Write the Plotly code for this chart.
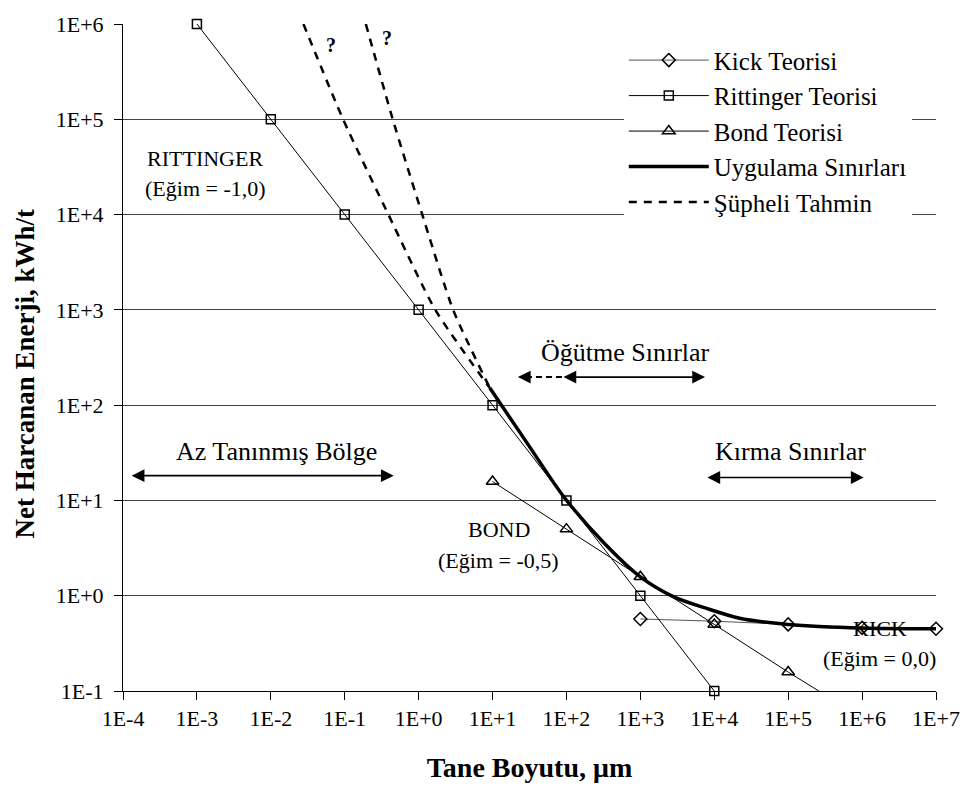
import plotly.graph_objects as go
import math

# ---------------- data ----------------
kick_x = [1e3, 1e4, 1e5, 1e6, 1e7]
kick_y = [0.57, 0.54, 0.50, 0.46, 0.45]

ritt_x = [1e-3, 1e-2, 1e-1, 1e0, 1e1, 1e2, 1e3, 1e4]
ritt_y = [1e6, 1e5, 1e4, 1e3, 1e2, 1e1, 1e0, 1e-1]

bond_x = [1e1, 1e2, 1e3, 1e4, 1e5]
bond_y = [15.8, 5.0, 1.58, 0.50, 0.158]
bond_ext_x = [1e5, 2.6e5]
bond_ext_y = [0.158, 0.1]

app_x = [9.2, 30, 93, 320, 1000, 2790, 7700, 22000, 1e5, 1e6, 1e7]
app_y = [151, 39, 10.8, 3.6, 1.58, 0.98, 0.74, 0.58, 0.50, 0.458, 0.45]

sus1_x = [0.0276, 0.095, 0.39, 1.68, 9.2]
sus2_x = [0.193, 0.446, 1.12, 2.93, 9.2]
sus_y = [1e6, 1e5, 1e4, 1e3, 151]

x_ticks = [10.0 ** k for k in range(-4, 8)]
x_ticktext = ["1E-4", "1E-3", "1E-2", "1E-1", "1E+0", "1E+1", "1E+2",
              "1E+3", "1E+4", "1E+5", "1E+6", "1E+7"]
y_ticks = [10.0 ** k for k in range(-1, 7)]
y_ticktext = ["1E-1", "1E+0", "1E+1", "1E+2", "1E+3", "1E+4", "1E+5", "1E+6"]

# labels (text, x value, y value, size)
labels = [
    ("RITTINGER", 0.0013, 3.85e4, 22),
    ("(Eğim = -1,0)", 0.0013, 1.9e4, 22),
    ("BOND", 12.2, 4.9, 22),
    ("(Eğim = -0,5)", 12.0, 2.36, 22),
    ("KICK", 1.74e6, 0.448, 22),
    ("(Eğim = 0,0)", 1.74e6, 0.22, 22),
    ("Az Tanınmış Bölge", 0.012, 33, 26),
    ("Öğütme Sınırlar", 630, 357, 26),
    ("Kırma Sınırlar", 1.09e5, 33, 26),
]
question_marks = [(0.0647, 6.0e5), (0.375, 7.2e5)]

# double arrows: (x_start, x_end, y)
double_arrows = [
    (1.25e-4, 0.46, 18.2),
    (87, 7.5e3, 197),
    (7.7e3, 1.05e6, 17.4),
]
# dashed extension of grinding limit: (x_from, x_to, y)
dashed_arrow = (87, 22, 197)

FONT = "Liberation Serif"

fig = go.Figure()

fig.add_trace(go.Scatter(
    x=kick_x, y=kick_y, mode="lines+markers", name="Kick Teorisi",
    line=dict(color="#555555", width=1),
    marker=dict(symbol="diamond-open", size=10, color="black", line=dict(width=1.5)),
    cliponaxis=False))
fig.add_trace(go.Scatter(
    x=ritt_x, y=ritt_y, mode="lines+markers", name="Rittinger Teorisi",
    line=dict(color="black", width=1),
    marker=dict(symbol="square-open", size=9, color="black", line=dict(width=1.5)),
    cliponaxis=False))
fig.add_trace(go.Scatter(
    x=bond_x, y=bond_y, mode="lines+markers", name="Bond Teorisi",
    line=dict(color="black", width=1),
    marker=dict(symbol="triangle-up-open", size=11, color="black", line=dict(width=1.5)),
    cliponaxis=False))
fig.add_trace(go.Scatter(
    x=bond_ext_x, y=bond_ext_y, mode="lines", showlegend=False,
    line=dict(color="black", width=1), cliponaxis=False))
fig.add_trace(go.Scatter(
    x=app_x, y=app_y, mode="lines", name="Uygulama Sınırları",
    line=dict(color="black", width=3.5, shape="spline", smoothing=0.8),
    cliponaxis=False))
fig.add_trace(go.Scatter(
    x=sus1_x, y=sus_y, mode="lines", name="Şüpheli Tahmin",
    line=dict(color="black", width=2.5, dash="8px,7px", shape="spline", smoothing=0.6),
    cliponaxis=True))
fig.add_trace(go.Scatter(
    x=sus2_x, y=sus_y, mode="lines", showlegend=False,
    line=dict(color="black", width=2.5, dash="8px,7px", shape="spline", smoothing=0.6),
    cliponaxis=True))

# dashed part of the grinding-limit arrow
fig.add_trace(go.Scatter(
    x=[dashed_arrow[0], dashed_arrow[1] * 1.25], y=[dashed_arrow[2]] * 2,
    mode="lines", showlegend=False,
    line=dict(color="black", width=2, dash="6px,4px")))

ann = []
for t, xv, yv, sz in labels:
    ann.append(dict(x=math.log10(xv), y=math.log10(yv), xref="x", yref="y",
                    text=t, showarrow=False,
                    font=dict(family=FONT, size=sz, color="black")))
for xv, yv in question_marks:
    ann.append(dict(x=math.log10(xv), y=math.log10(yv), xref="x", yref="y",
                    text="<b>?</b>", showarrow=False,
                    font=dict(family=FONT, size=20, color="black")))
for x0, x1, yv in double_arrows:
    ann.append(dict(x=math.log10(x1), y=math.log10(yv), ax=math.log10(x0),
                    ay=math.log10(yv), xref="x", yref="y", axref="x", ayref="y",
                    text="", showarrow=True, arrowhead=2, arrowside="end+start",
                    arrowsize=1.6, arrowwidth=1.6, arrowcolor="black"))
ann.append(dict(x=math.log10(dashed_arrow[1]), y=math.log10(dashed_arrow[2]),
                ax=math.log10(dashed_arrow[1] * 1.6), ay=math.log10(dashed_arrow[2]),
                xref="x", yref="y", axref="x", ayref="y", text="", showarrow=True,
                arrowhead=2, arrowsize=1.6, arrowwidth=1.6, arrowcolor="black"))
# y-axis title
ann.append(dict(x=-0.1217, y=0.476, xref="paper", yref="paper",
                text="<b>Net Harcanan Enerji, kWh/t</b>", textangle=-90,
                showarrow=False, xanchor="center", yanchor="middle",
                font=dict(family=FONT, size=27, color="black")))

fig.update_layout(
    width=972, height=793,
    margin=dict(l=123, r=27, t=13, b=102),
    paper_bgcolor="white", plot_bgcolor="white",
    font=dict(family=FONT, color="black"),
    annotations=ann,
    legend=dict(x=0.616, y=0.98, xanchor="left", yanchor="top",
                bgcolor="white", borderwidth=0, itemwidth=80,
                font=dict(family=FONT, size=25, color="black"),
                tracegroupgap=0),
    showlegend=True,
)
fig.update_xaxes(
    type="log", range=[-4, 7], tickvals=x_ticks, ticktext=x_ticktext,
    tickfont=dict(family=FONT, size=22), ticks="outside", ticklen=8,
    tickcolor="black", showline=True, linecolor="black", linewidth=1,
    showgrid=False, zeroline=False,
    title=dict(text="<b>Tane Boyutu, μm</b>", font=dict(family=FONT, size=28),
               standoff=26))
fig.update_yaxes(
    type="log", range=[-1, 6], tickvals=y_ticks, ticktext=y_ticktext,
    tickfont=dict(family=FONT, size=22), ticks="outside", ticklen=8,
    ticklabelstandoff=6,
    tickcolor="black", showline=True, linecolor="black", linewidth=1,
    showgrid=True, gridcolor="#444444", gridwidth=1, zeroline=False)

fig.write_html("out.html")
